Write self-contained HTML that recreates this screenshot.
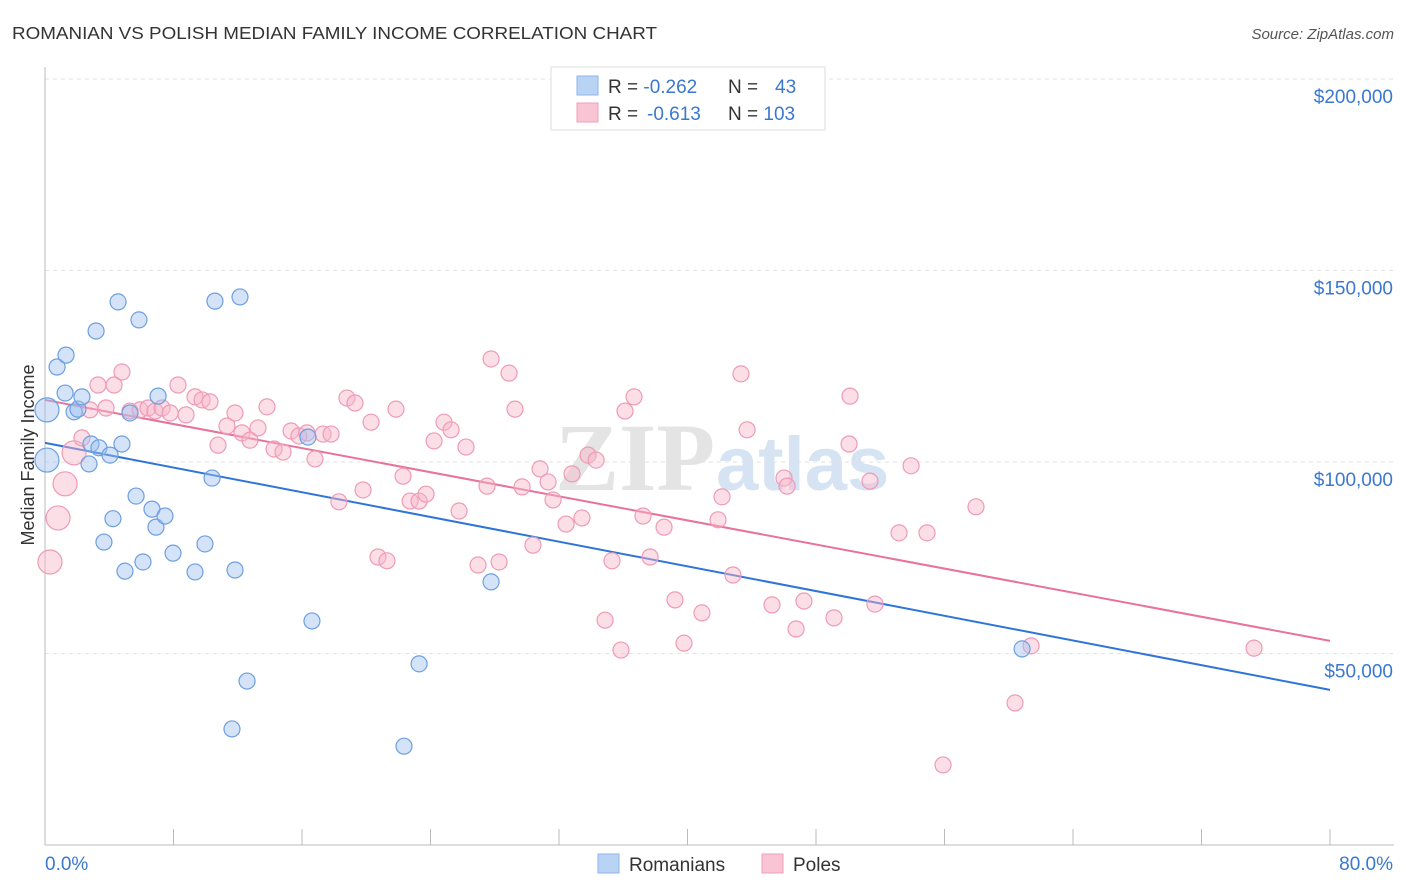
<!DOCTYPE html>
<html><head><meta charset="utf-8"><style>
body{margin:0;background:#fff;font-family:"Liberation Sans",sans-serif;}
</style></head><body>
<svg id="chart" width="1406" height="892" xmlns="http://www.w3.org/2000/svg" style="display:block">
<text x="12" y="39" font-size="17.5" fill="#333" textLength="645" lengthAdjust="spacingAndGlyphs">ROMANIAN VS POLISH MEDIAN FAMILY INCOME CORRELATION CHART</text>
<text x="1394" y="39" font-size="15" fill="#555" font-style="italic" text-anchor="end">Source: ZipAtlas.com</text>
<g>
<text x="555" y="490" font-size="96" fill="#e4e4e4" font-family="Liberation Serif,serif" font-weight="bold">ZIP</text>
<text x="716" y="490" font-size="76" fill="#d5e3f3" font-weight="bold">atlas</text>
</g>
<g id="grid"></g>
<g id="axes"></g>
<g id="lines"></g>
<g id="pts"></g>
<g>
<rect x="551" y="67" width="274" height="63" fill="#fff" stroke="#ddd"/>
<rect x="577" y="76" width="21" height="19" fill="#b9d3f5" stroke="#8fb6ea"/>
<rect x="577" y="103" width="21" height="19" fill="#f9c4d3" stroke="#f0a0ba"/>
<text x="608" y="93" font-size="19" fill="#333">R = <tspan fill="#3a78d0">-0.262</tspan></text>
<text x="728" y="93" font-size="19" fill="#333">N = <tspan fill="#3a78d0" x="775">43</tspan></text>
<text x="608" y="120" font-size="19" fill="#333">R = <tspan fill="#3a78d0" x="647">-0.613</tspan></text>
<text x="728" y="120" font-size="19" fill="#333">N = <tspan fill="#3a78d0">103</tspan></text>
</g>
<g>
<rect x="598" y="854" width="21" height="19" fill="#b9d3f5" stroke="#8fb6ea"/>
<text x="629" y="871" font-size="19" fill="#333">Romanians</text>
<rect x="762" y="854" width="21" height="19" fill="#f9c4d3" stroke="#f0a0ba"/>
<text x="793" y="871" font-size="19" fill="#333">Poles</text>
</g>
<text transform="translate(34,455) rotate(-90)" font-size="18" fill="#333" text-anchor="middle">Median Family Income</text>
</svg>
<script>
const yTicks=[50000,100000,150000,200000];
const yTickLabels=["$50,000","$100,000","$150,000","$200,000"];
const xTicks=[0,8,16,24,32,40,48,56,64,72,80];
const xEndLabels=["0.0%","80.0%"];
const romX=[0.12,0.12,0.75,1.31,1.25,1.81,2.05,2.3,2.74,2.86,3.36,3.18,4.05,4.55,4.79,4.23,3.67,5.29,5.85,5.67,6.1,6.66,7.04,6.91,7.47,7.97,4.98,9.34,9.96,10.4,10.58,12.14,11.83,12.58,11.64,16.62,16.37,23.29,22.35,27.77,60.83];
const romY=[113.6,100.5,124.8,127.9,118.0,113.1,113.8,117.0,99.5,104.7,103.7,134.2,101.8,141.8,104.7,85.2,79.1,112.8,137.1,91.1,73.9,87.7,117.2,83.0,85.9,76.2,71.5,71.3,78.6,95.8,142.0,143.1,71.8,42.8,30.3,58.5,106.5,47.3,25.8,68.7,51.2];
const romBig=[0,1];
const polX=[0.31,0.81,1.25,1.81,2.30,2.80,3.30,3.80,4.30,4.79,5.29,5.92,6.41,6.85,7.29,7.79,8.28,8.78,9.34,9.78,10.27,10.77,11.33,11.83,12.26,12.76,13.26,13.82,14.26,14.82,15.32,15.81,16.31,16.81,17.31,17.81,18.30,18.80,19.30,19.80,20.30,20.73,21.29,21.85,22.29,22.73,23.29,23.72,24.22,24.84,25.28,25.78,26.21,26.96,27.52,27.77,28.27,28.89,29.26,29.70,30.38,30.82,31.32,31.63,32.44,32.81,33.43,33.81,34.31,34.87,35.30,35.86,36.11,36.67,37.23,37.67,38.54,39.22,39.78,40.90,41.90,42.15,42.83,43.33,43.71,45.26,46.01,46.20,46.76,47.25,49.12,50.12,50.06,51.36,51.67,53.17,53.92,54.91,55.91,57.96,60.39,61.39,75.27];
const polY=[73.9,85.4,94.3,102.4,106.3,113.6,120.1,114.1,120.1,123.5,113.3,113.6,114.1,113.3,114.1,112.8,120.1,112.3,117.0,116.2,115.7,104.4,109.4,112.8,107.6,105.7,108.9,114.4,103.4,102.6,108.1,106.8,107.6,100.8,107.3,107.3,89.6,116.7,115.4,92.7,110.4,75.2,74.2,113.8,96.3,89.8,89.8,91.6,105.5,110.4,108.4,87.2,103.9,73.1,93.7,126.9,73.9,123.2,113.8,93.5,78.3,98.2,94.8,90.1,83.8,96.9,85.4,101.8,100.5,58.7,74.2,50.9,113.3,117.0,85.9,75.2,83.0,64.0,52.7,60.6,84.9,90.9,70.5,123.0,108.4,62.7,95.8,93.7,56.4,63.7,59.3,117.2,104.7,95.0,62.9,81.5,99.0,81.5,20.9,88.3,37.1,52.0,51.4];
const polBig=[0,1,2,3];
const romTrend=[105.0,40.5];
const polTrend=[116.2,53.3];
const X=p=>45+p*(1285/80);
const Y=v=>845-v*(383/100);
const NS="http://www.w3.org/2000/svg";
function mk(t,a,parent){const e=document.createElementNS(NS,t);for(const k in a)e.setAttribute(k,a[k]);parent.appendChild(e);return e;}
const grid=document.getElementById('grid'),axes=document.getElementById('axes');
yTicks.forEach((v,i)=>{
  const l=mk('line',{x1:45,x2:1394,y1:Y(v/1000),y2:Y(v/1000),stroke:'#e2e2e2','stroke-dasharray':'4,4'},grid);
  
  
  const t=mk('text',{x:1393,y:Y(v/1000)+24,'font-size':19,fill:'#3a78d0','text-anchor':'end'},axes);
  t.textContent=yTickLabels[i];
  
  
});
mk('line',{x1:45,x2:45,y1:67,y2:845,stroke:'#bbb'},axes);
mk('line',{x1:45,x2:1394,y1:845,y2:845,stroke:'#bbb'},axes);
xTicks.forEach(p=>{const t=mk('line',{x1:X(p),x2:X(p),y1:829,y2:845,stroke:'#bbb'},axes);
  
  });
const xl0=mk('text',{x:45,y:870,'font-size':19,fill:'#3a78d0'},axes);xl0.textContent=xEndLabels[0];


const xl1=mk('text',{x:1393,y:870,'font-size':19,fill:'#3a78d0','text-anchor':'end'},axes);xl1.textContent=xEndLabels[1];


const pts=document.getElementById('pts');
function series(xs,ys,big,fill,stroke,name){
  xs.forEach((x,i)=>{const c=mk('circle',{cx:X(x),cy:Y(ys[i]),r:big.includes(i)?12:8,fill:fill,stroke:stroke,'stroke-width':1.2},pts);
    
    });
}
series(polX,polY,polBig,'rgba(248,182,202,0.45)','#ef9ab6','poles-point');
series(romX,romY,romBig,'rgba(160,194,240,0.45)','#6d9fe0','romanians-point');
const lines=document.getElementById('lines');
const l1=mk('line',{x1:X(0),y1:Y(romTrend[0]),x2:X(80),y2:Y(romTrend[1]),stroke:'#2f74d8','stroke-width':2},lines);


const l2=mk('line',{x1:X(0),y1:Y(polTrend[0]),x2:X(80),y2:Y(polTrend[1]),stroke:'#e8739a','stroke-width':2},lines);


</script>
</body></html>
